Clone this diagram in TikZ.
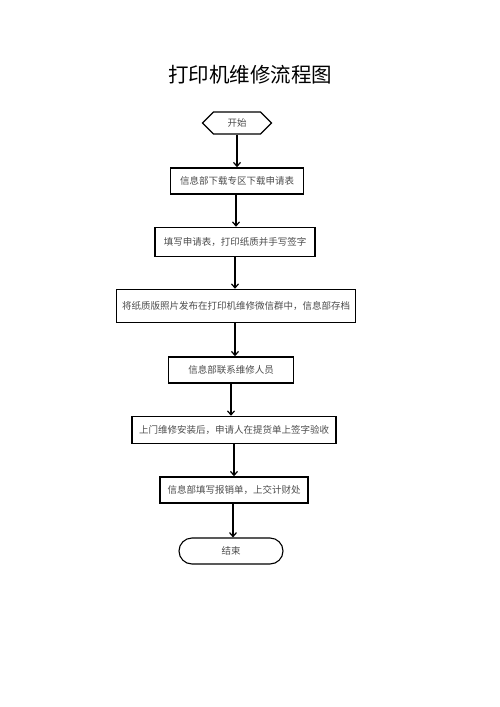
\documentclass[tikz,border=0pt]{standalone}
\usepackage{fontspec}
\newfontfamily\cjk{Noto Sans CJK SC}
\usetikzlibrary{arrows.meta,shapes.misc,shapes.symbols,positioning}

\tikzset{
  stepbox/.style={draw, line width=1.5pt, minimum height=26pt, inner sep=2pt,
    font=\cjk\fontsize{9.5}{11}\selectfont, text=black!70},
  flow/.style={line width=1.6pt, -{Straight Barb[length=4pt,width=7pt,line width=1.2pt]}},
}

\begin{document}
\begin{tikzpicture}[x=1pt, y=-1pt]
  \useasboundingbox (0,0) rectangle (500,707);

  \node (title) at (250,75) {\cjk\fontsize{20.5}{24}\selectfont 打印机维修流程图};

  \node[stepbox, signal, signal to=west and east, signal pointer angle=90,
        minimum width=69pt, minimum height=22pt, line width=1.1pt] (start) at (237,123) {开始};
  \node[stepbox, minimum width=133pt] (info)    at (237,181) {信息部下载专区下载申请表};
  \node[stepbox, minimum width=160pt, minimum height=29pt] (fill) at (235,242) {填写申请表，打印纸质并手写签字};
  \node[stepbox, minimum width=239pt, minimum height=33pt] (post) at (236,306) {将纸质版照片发布在打印机维修微信群中，信息部存档};
  \node[stepbox, minimum width=125pt] (contact) at (231,370) {信息部联系维修人员};
  \node[stepbox, minimum width=204pt, minimum height=27pt] (install) at (234,430) {上门维修安装后，申请人在提货单上签字验收};
  \node[stepbox, minimum width=148pt] (reimb)   at (234,490) {信息部填写报销单，上交计财处};
  \node[stepbox, rounded rectangle, minimum width=108pt, line width=1.1pt] (stop) at (231,551) {结束};

  % arrows down the chain, each one a bit off centre like the scan
  \draw[flow] (start.south) -- (start.south |- info.north);
  \draw[flow] ([xshift=-1pt]info.south) -- ([xshift=-1pt]info.south |- fill.north);
  \draw[flow] (fill.south) -- (fill.south |- post.north);
  \draw[flow] ([xshift=-1pt]post.south) -- ([xshift=-1pt]post.south |- contact.north);
  \draw[flow] (contact.south) -- (contact.south |- install.north);
  \draw[flow] (install.south) -- (install.south |- reimb.north);
  \draw[flow] ([xshift=-1pt]reimb.south) -- ([xshift=-1pt]reimb.south |- stop.north);
\end{tikzpicture}
\end{document}
